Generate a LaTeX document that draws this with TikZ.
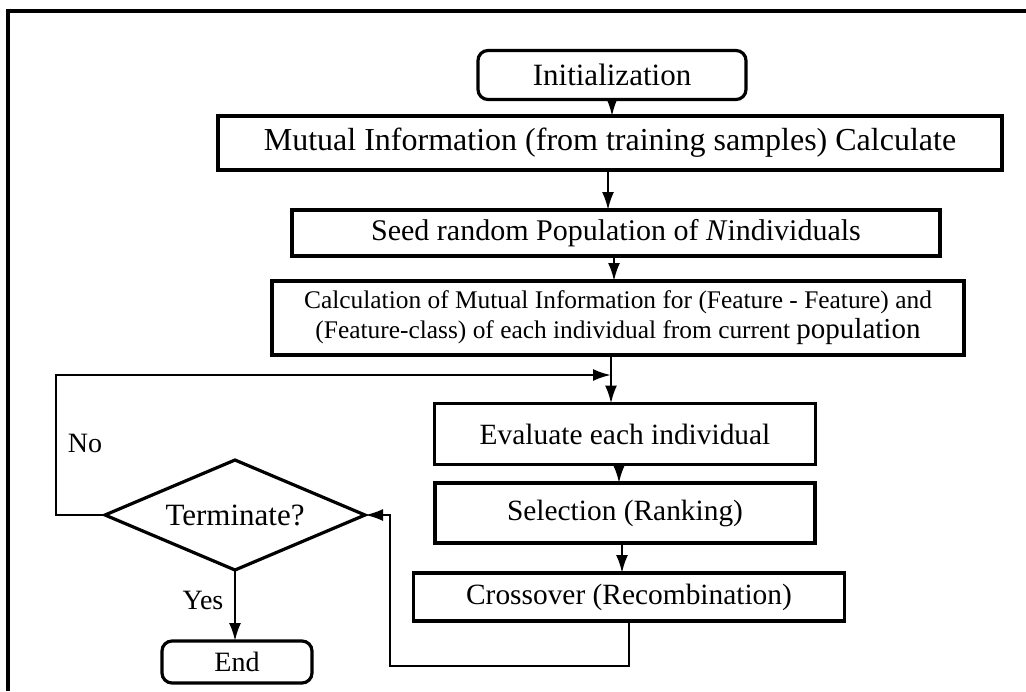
\documentclass[tikz,border=0pt]{standalone}
\usepackage{fontspec}
\setmainfont{Liberation Serif}
\usetikzlibrary{shapes.geometric, arrows.meta}
\tikzset{
  >={Latex[length=9pt,width=6pt]},
  every node/.style={outer sep=0pt, inner sep=1pt},
  proc/.style={draw, line width=1.6pt, rectangle, font=\fontsize{15}{18}\selectfont},
  term/.style={proc, rounded corners=5pt},
  decision/.style={draw, line width=1.6pt, diamond, aspect=2.4, font=\fontsize{15.5}{18}\selectfont},
  flow/.style={line width=1.2pt},
  lbl/.style={font=\fontsize{14}{16}\selectfont},
}

\begin{document}
\begin{tikzpicture}[x=0.5pt, y=-0.5pt]
			      \useasboundingbox (0,0) rectangle (1026,691);
			      % frame
			      \draw[line width=1.6pt] (8,691) -- (8,11) -- (1026,11);

			      % boxes
			      \node[term, minimum width=134pt, minimum height=24.5pt, font=\fontsize{15.5}{18}\selectfont] (init) at (612,75) {Initialization};
			      \node[proc, minimum width=392pt, minimum height=27pt, font=\fontsize{16}{19}\selectfont] (mi) at (610,143) {Mutual Information (from training samples) Calculate};
			      \node[proc, minimum width=324pt, minimum height=23pt] (seed) at (616,233) {Seed random Population of \textit{N}individuals};
			      \node[proc, minimum width=346pt, minimum height=37pt, align=center, font=\fontsize{12.7}{15}\selectfont] (calc) at (618,318)
			        {Calculation of Mutual Information for (Feature - Feature) and\\(Feature-class) of each individual from current {\fontsize{14.5}{15}\selectfont population}};
			      \node[proc, minimum width=190.5pt, minimum height=30.5pt, font=\fontsize{14.7}{17}\selectfont] (eval) at (625,434) {Evaluate each individual};
			      \node[proc, minimum width=190pt, minimum height=30pt, font=\fontsize{14.7}{17}\selectfont] (sel) at (625,513) {Selection (Ranking)};
			      \node[proc, minimum width=215.5pt, minimum height=24pt, font=\fontsize{14.7}{17}\selectfont] (cross) at (629,597) {Crossover (Recombination)};
			      \node[decision, minimum width=130pt, minimum height=55pt, inner sep=0pt] (stop) at (235,515) {Terminate?};
			      \node[term, minimum width=75pt, minimum height=21pt, lbl] (fin) at (237,662) {End};

			      % labels
			      \node[lbl] (nolbl) at (85,443) {No};
			      \node[lbl] (yeslbl) at (203,600) {Yes};

			      % helper points
			      \coordinate (join) at (611,375);
			      \coordinate (back) at (390,666);

			      % transitions
			      \draw[flow, ->] (init.south) -- (init.south |- mi.north);
			      \draw[flow, ->] ([xshift=-1pt]mi.south) -- ([xshift=-1pt]mi.south |- seed.north);
			      \draw[flow, ->] ([xshift=-1pt]seed.south) -- ([xshift=-1pt]seed.south |- calc.north);
			      \draw[flow, ->] (calc.south -| join) -- (join |- eval.north);
			      \draw[flow, ->] ([xshift=-3pt]eval.south) -- ([xshift=-3pt]eval.south |- sel.north);
			      \draw[flow, ->] ([xshift=-1.5pt]sel.south) -- ([xshift=-1.5pt]sel.south |- cross.north);
			      \draw[flow, ->] (cross.south) |- (back) |- (stop.east);
			      \draw[flow, ->] (stop.west) -- ++(-49,0) |- (join);
			      \draw[flow, ->] (stop.south) -- (stop.south |- fin.north);
		      \end{tikzpicture}
\end{document}
